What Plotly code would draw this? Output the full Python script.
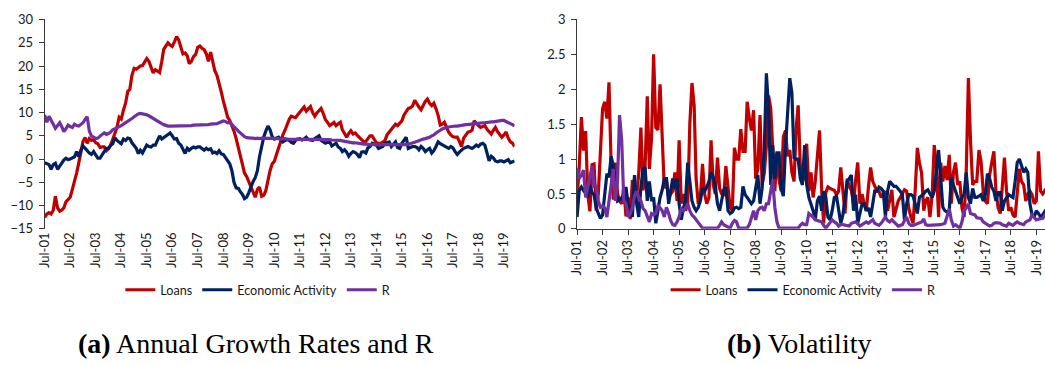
import pandas as pd
import plotly.graph_objects as go

# Monthly observations, Jul-2001 .. Dec-2019 (one row per Jul-Jun year)
months = pd.date_range("2001-07-01", periods=222, freq="MS")
july_ticks = pd.date_range("2001-07-01", "2019-07-01", freq="12MS")

# (a) Annual growth rates (%) and R
loans_growth = [
    -12.5, -11.8, -11.5, -11.8, -11.0, -8.0, -10.5, -11.2, -11.0, -10.5, -9.2, -8.6,
    -8.2, -6.5, -5.0, -3.0, -0.8, 1.5, 3.8, 4.6, 3.4, 4.4, 4.0, 4.2,
    3.5, 3.3, 2.5, 2.6, 2.6, 1.8, 2.2, 3.0, 4.2, 5.5, 6.8, 9.0,
    8.6, 10.5, 12.0, 14.5, 15.0, 18.0, 19.5, 19.3, 19.6, 20.0, 20.1, 21.0,
    21.6, 21.0, 19.8, 18.5, 19.2, 18.8, 18.6, 21.0, 23.6, 24.3, 25.0, 24.5,
    24.2, 25.2, 26.3, 25.6, 24.0, 22.6, 22.8, 22.2, 20.5, 21.0, 22.0, 22.5,
    24.0, 24.3, 23.8, 23.5, 22.6, 21.0, 23.0, 20.5, 19.0, 18.0, 16.5, 14.5,
    12.5, 10.5, 9.0, 8.3, 7.2, 6.0, 4.4, 2.5, 1.0, -1.5, -3.0, -3.8,
    -4.8, -6.0, -7.0, -8.2, -6.5, -6.0, -8.0, -7.8, -6.8, -4.5, -2.5, -1.0,
    -0.5, 1.0, 2.5, 4.0, 5.2, 6.2, 7.5, 8.6, 9.2, 9.0, 8.9, 9.5,
    10.0, 10.6, 11.2, 10.3, 10.8, 11.3, 10.0, 9.2, 9.9, 10.5, 10.9, 9.8,
    8.5, 7.9, 7.2, 7.5, 7.9, 7.2, 7.5, 7.9, 6.3, 5.5, 4.7, 5.5,
    6.1, 5.4, 5.6, 5.1, 4.7, 4.1, 3.7, 3.8, 4.4, 5.0, 5.0, 4.2,
    3.5, 3.4, 3.4, 3.6, 4.0, 5.2, 5.8, 6.4, 7.0, 7.5, 7.2, 7.6,
    8.2, 9.5, 10.4, 10.9, 11.0, 11.4, 12.6, 11.8, 11.2, 10.6, 11.5, 12.4,
    12.9, 12.0, 11.5, 12.0, 10.8, 9.4, 7.3, 7.5, 7.9, 6.8, 5.8, 5.2,
    4.8, 4.7, 4.7, 3.8, 2.7, 4.5, 5.3, 5.8, 5.9, 6.2, 8.2, 7.6,
    7.2, 6.8, 7.0, 7.2, 6.4, 5.8, 5.4, 6.2, 6.8, 5.9, 5.2, 4.7,
    5.2, 5.8, 4.5, 3.7, 3.4, 2.7,
]
activity_growth = [
    -0.8, -1.0, -1.2, -2.2, -1.2, -0.9, -2.2, -1.5, -0.8, -0.2, 0.2, -0.1,
    0.0, 0.2, 0.5, 1.6, 0.5, 1.9, 2.8, 2.3, 1.8, 1.3, 1.0, 1.6,
    0.9, 0.2, 0.2, 0.8, 1.6, 2.3, 2.3, 3.0, 3.3, 4.6, 4.0, 3.6,
    3.3, 4.3, 4.0, 4.5, 4.4, 3.5, 3.0, 2.3, 1.2, 1.9, 1.3, 2.2,
    3.0, 2.7, 2.6, 3.0, 3.0, 4.0, 5.0, 4.3, 4.6, 5.0, 5.2, 5.6,
    5.0, 4.3, 4.4, 3.4, 3.0, 2.0, 1.2, 2.3, 1.9, 2.3, 2.6, 2.4,
    2.6, 2.6, 2.3, 1.9, 2.3, 2.0, 2.2, 1.3, 1.5, 1.2, 1.8, 1.1,
    1.0, 0.4, -0.3, -1.0, -2.5, -5.0, -6.2, -6.3, -7.0, -7.6, -8.5, -8.2,
    -7.2, -5.8, -4.8, -4.0, -2.5, 0.5, 3.0, 4.8, 6.0, 7.1, 6.3, 4.8,
    4.3, 4.6, 4.7, 4.2, 3.7, 4.0, 4.2, 4.0, 3.6, 3.4, 4.0, 4.3,
    4.4, 4.1, 4.3, 4.7, 4.2, 4.1, 4.0, 4.4, 4.8, 5.0, 4.0, 3.6,
    3.4, 3.6, 3.7, 2.8, 3.2, 3.4, 2.6, 2.3, 1.6, 2.0, 1.5, 0.6,
    1.2, 1.6, 1.4, 1.0, 0.3, 1.5, 1.6, 1.3, 2.4, 2.7, 3.4, 3.2,
    3.0, 2.3, 2.6, 2.7, 3.4, 3.5, 3.7, 2.7, 3.2, 3.7, 2.5, 2.3,
    3.4, 4.0, 4.7, 2.3, 2.5, 2.7, 2.7, 2.5, 2.0, 2.7, 2.3, 1.6,
    2.0, 2.3, 1.3, 1.8, 2.7, 3.7, 3.3, 3.0, 2.7, 2.5, 2.3, 2.7,
    2.4, 1.6, 1.0, 1.5, 2.0, 2.3, 2.5, 2.7, 2.5, 2.3, 2.6, 3.0,
    2.7, 3.2, 3.4, 3.0, 1.3, -0.4, 0.6, 0.2, -0.4, -0.6, -0.4, -0.4,
    -0.6, -0.3, -0.1, -0.8, -0.5, -0.4,
]
r_level = [
    9.5, 7.9, 9.2, 8.2, 7.5, 6.6, 7.2, 7.8, 7.0, 5.9, 6.5, 7.3,
    7.0, 6.8, 7.5, 7.2, 7.1, 7.4, 7.8, 8.6, 9.1, 6.0, 5.0, 4.7,
    4.4, 4.5, 5.0, 5.3, 5.6, 5.3, 5.5, 5.8, 6.3, 6.5, 6.7, 6.9,
    7.2, 7.5, 7.8, 8.1, 8.3, 8.7, 9.1, 9.5, 9.7, 9.8, 9.7, 9.7,
    9.5, 9.3, 9.0, 8.7, 8.3, 8.0, 7.8, 7.6, 7.4, 7.2, 7.1, 7.1,
    7.1, 7.1, 7.1, 7.1, 7.1, 7.1, 7.1, 7.2, 7.2, 7.2, 7.3, 7.3,
    7.3, 7.4, 7.4, 7.4, 7.4, 7.4, 7.5, 7.5, 7.5, 7.6, 7.8, 8.0,
    8.2, 8.1, 7.8, 7.9, 7.5, 7.0, 6.5, 6.0, 5.6, 5.1, 4.8, 4.6,
    4.5, 4.5, 4.5, 4.4, 4.5, 4.4, 4.5, 4.5, 4.4, 4.4, 4.5, 4.4,
    4.4, 4.4, 4.4, 4.3, 4.4, 4.4, 4.3, 4.3, 4.3, 4.3, 4.3, 4.3,
    4.3, 4.3, 4.3, 4.3, 4.3, 4.3, 4.2, 4.2, 4.2, 4.2, 4.3, 4.2,
    4.2, 4.2, 4.2, 4.1, 4.1, 4.1, 4.0, 4.0, 3.9, 3.8, 3.8, 3.7,
    3.6, 3.5, 3.5, 3.4, 3.4, 3.3, 3.2, 3.2, 3.1, 3.1, 3.1, 3.1,
    3.0, 3.0, 3.0, 3.0, 3.0, 3.0, 3.0, 3.0, 3.0, 3.0, 3.1, 3.1,
    3.1, 3.1, 3.1, 3.2, 3.3, 3.4, 3.6, 3.8, 4.0, 4.2, 4.3, 4.4,
    4.5, 4.7, 5.0, 5.2, 5.6, 6.0, 6.2, 6.5, 6.7, 6.8, 6.9, 7.0,
    7.0, 7.1, 7.1, 7.2, 7.3, 7.3, 7.4, 7.4, 7.5, 7.5, 7.6, 7.6,
    7.7, 7.7, 7.8, 7.8, 7.9, 8.0, 8.0, 8.0, 8.1, 8.1, 8.2, 8.3,
    8.3, 8.1, 7.9, 7.6, 7.4, 7.1,
]

# (b) Volatility
loans_vol = [
    0.4, 0.9, 1.6, 1.12, 1.4, 0.5, 0.25, 0.92, 0.93, 0.26, 0.5, 1.1,
    1.72, 1.82, 1.58, 2.1, 0.9, 0.42, 0.95, 0.5, 0.4, 0.36, 0.6, 0.18,
    0.45, 0.14, 0.7, 0.6, 0.45, 0.8, 1.45, 0.55, 0.9, 1.9, 0.86, 1.3,
    2.5, 1.45, 1.42, 2.07, 1.18, 0.58, 0.7, 0.45, 0.5, 0.54, 0.81, 0.4,
    1.27, 0.36, 0.5, 0.26, 0.36, 1.5, 2.09, 1.77, 0.72, 0.36, 0.45, 0.93,
    0.5, 0.36, 0.45, 1.27, 0.63, 0.5, 1.02, 0.58, 0.5, 0.47, 0.9, 0.63,
    0.31, 0.26, 1.16, 1.0, 1.0, 1.43, 1.11, 1.11, 1.82, 1.59, 1.41, 1.7,
    0.72, 0.86, 1.63, 0.63, 0.8, 1.18, 1.91, 1.73, 1.18, 0.54, 1.09, 0.7,
    0.54, 1.32, 1.41, 1.04, 1.13, 0.81, 0.68, 1.45, 1.77, 0.9, 0.68, 0.74,
    1.22, 0.54, 0.81, 0.45, 0.68, 1.0, 1.41, 0.54, 0.08, 0.52, 0.6, 0.58,
    0.56, 0.55, 0.49, 0.54, 0.88, 0.5, 0.22, 0.72, 0.61, 0.55, 0.36, 0.7,
    0.95, 0.36, 0.5, 0.36, 0.26, 0.6, 0.88, 0.68, 0.6, 0.54, 0.54, 0.45,
    0.5, 0.54, 0.26, 0.4, 0.56, 0.17, 0.3, 0.4, 0.45, 0.5, 0.56, 0.54,
    0.3, 0.17, 0.08, 0.54, 1.16, 0.95, 0.8, 0.26, 0.4, 0.45, 0.17, 0.49,
    1.2, 0.9, 0.17, 0.95, 0.68, 0.9, 0.7, 1.06, 0.36, 0.81, 0.95, 0.63,
    0.68, 0.3, 0.17, 0.81, 2.16, 1.27, 0.63, 0.68, 0.68, 1.13, 0.97, 0.54,
    0.4, 0.36, 0.77, 0.95, 1.11, 0.54, 0.3, 0.22, 0.63, 1.02, 0.54, 0.26,
    0.31, 0.2, 0.17, 0.54, 0.86, 0.68, 0.63, 0.4, 0.5, 0.54, 0.49, 0.36,
    0.4, 1.11, 0.54, 0.5, 0.55, 0.5,
]
activity_vol = [
    0.17, 0.55, 0.6, 0.55, 0.6, 0.45, 0.63, 0.52, 0.49, 0.3, 0.22, 0.15,
    0.2, 0.5, 0.79, 0.74, 1.04, 0.9, 0.6, 0.4, 0.42, 0.45, 0.4, 0.6,
    0.36, 0.3, 0.17, 0.77, 0.36, 0.17, 0.6, 0.86, 0.88, 0.4, 0.68, 0.4,
    0.45, 0.08, 0.26, 0.45, 0.56, 0.72, 0.72, 0.36, 0.54, 0.72, 0.58, 0.72,
    0.36, 0.13, 0.3, 0.4, 0.95, 0.68, 0.4, 0.31, 0.26, 0.31, 0.4, 0.58,
    0.54, 0.6, 0.68, 0.81, 0.74, 0.61, 0.36, 0.26, 0.4, 0.56, 0.6, 0.26,
    0.22, 0.24, 0.3, 0.31, 0.29, 0.31, 0.61, 0.49, 0.45, 0.4, 0.36, 0.4,
    0.58, 0.77, 0.36, 0.58, 1.13, 2.23, 1.73, 0.63, 1.2, 0.72, 1.09, 1.09,
    0.58, 0.47, 1.18, 1.77, 2.16, 1.95, 1.02, 1.0, 1.0, 0.72, 0.63, 1.2,
    0.63, 0.45, 0.36, 0.26, 0.13, 0.4, 0.47, 0.26, 0.54, 0.45, 0.17, 0.13,
    0.26, 0.45, 0.47, 0.26, 0.08, 0.2, 0.45, 0.68, 0.72, 0.77, 0.26, 0.49,
    0.08, 0.2, 0.36, 0.36, 0.26, 0.3, 0.17, 0.36, 0.54, 0.54, 0.6, 0.58,
    0.54, 0.17, 0.54, 0.68, 0.65, 0.61, 0.61, 0.58, 0.54, 0.49, 0.13, 0.36,
    0.49, 0.49, 0.47, 0.36, 0.22, 0.45, 0.47, 0.5, 0.54, 0.56, 0.5, 0.45,
    0.54, 0.86, 1.13, 0.75, 0.31, 0.26, 0.24, 0.26, 0.74, 0.63, 0.55, 0.45,
    0.36, 0.45, 0.5, 0.81, 0.45, 0.36, 0.58, 0.45, 0.45, 0.47, 0.49, 0.4,
    0.49, 0.79, 0.72, 0.6, 0.54, 0.4, 0.52, 0.52, 0.26, 0.4, 0.45, 0.49,
    0.47, 0.45, 0.68, 0.95, 1.0, 0.9, 0.81, 0.86, 0.81, 0.36, 0.2, 0.17,
    0.26, 0.22, 0.17, 0.2, 0.25, 0.22,
]
r_vol = [
    0.87, 0.72, 0.77, 0.84, 0.45, 0.6, 0.7, 0.9, 0.61, 0.61, 0.4, 0.31,
    0.33, 0.3, 0.17, 0.4, 0.68, 0.86, 0.4, 0.7, 1.63, 1.27, 0.4, 0.36,
    0.17, 0.22, 0.3, 0.47, 0.54, 0.45, 0.4, 0.29, 0.26, 0.18, 0.1, 0.22,
    0.2, 0.22, 0.33, 0.3, 0.26, 0.17, 0.31, 0.22, 0.12, 0.06, 0.05, 0.1,
    0.17, 0.29, 0.26, 0.3, 0.36, 0.26, 0.2, 0.17, 0.13, 0.08, 0.04, 0.01,
    0.01, 0.01, 0.01, 0.01, 0.01, 0.01, 0.01, 0.05, 0.1, 0.06, 0.04, 0.02,
    0.01, 0.08, 0.12, 0.1, 0.01, 0.01, 0.01, 0.01, 0.01, 0.06, 0.15, 0.26,
    0.13, 0.26, 0.3, 0.31, 0.26, 0.36, 0.36, 0.54, 0.7, 0.31, 0.1, 0.01,
    0.01, 0.01, 0.01, 0.01, 0.01, 0.01, 0.01, 0.01, 0.01, 0.05, 0.08, 0.06,
    0.06, 0.22, 0.2, 0.17, 0.13, 0.12, 0.1, 0.1, 0.05, 0.01, 0.05, 0.1,
    0.13, 0.1, 0.08, 0.04, 0.06, 0.06, 0.05, 0.04, 0.04, 0.08, 0.09, 0.1,
    0.07, 0.04, 0.06, 0.08, 0.1, 0.08, 0.1, 0.13, 0.08, 0.06, 0.05, 0.08,
    0.12, 0.17, 0.12, 0.1, 0.13, 0.1, 0.06, 0.04, 0.05, 0.06, 0.12, 0.17,
    0.08, 0.05, 0.05, 0.06, 0.07, 0.08, 0.1, 0.14, 0.06, 0.05, 0.05, 0.06,
    0.06, 0.06, 0.06, 0.06, 0.07, 0.08, 0.18, 0.29, 0.13, 0.04, 0.06, 0.03,
    0.01, 0.1, 0.26, 0.3, 0.36, 0.22, 0.21, 0.2, 0.16, 0.15, 0.15, 0.1,
    0.08, 0.06, 0.04, 0.05, 0.08, 0.09, 0.09, 0.08, 0.06, 0.05, 0.04, 0.08,
    0.06, 0.05, 0.08, 0.1, 0.08, 0.07, 0.06, 0.1, 0.12, 0.13, 0.2, 0.17,
    0.13, 0.14, 0.15, 0.15, 0.2, 0.18,
]

series_names = ["Loans", "Economic Activity", "R"]
series_colors = ["#C00000", "#002060", "#7030A0"]

W, H = 1045, 365
TEXT = "#1a1a1a"
AXIS = "#3a3a3a"
tick_font = dict(family="Lato", size=13, color=TEXT)
legend_font = dict(family="Lato", size=12.6, color=TEXT)

fig = go.Figure()
for name, vals, color in zip(series_names, [loans_growth, activity_growth, r_level], series_colors):
    fig.add_trace(go.Scatter(x=months, y=vals, mode="lines", name=name,
                             line=dict(color=color, width=3.2),
                             xaxis="x", yaxis="y", legend="legend"))
for name, vals, color in zip(series_names, [loans_vol, activity_vol, r_vol], series_colors):
    fig.add_trace(go.Scatter(x=months, y=vals, mode="lines", name=name,
                             line=dict(color=color, width=3.2),
                             xaxis="x2", yaxis="y2", legend="legend2"))

# panel geometry in pixels
left_px = (36, 510)
right_px = (573, W)
y_dom = [1 - 231 / H, 1 - 12 / H]
span = months[-1] - months[0]
right_end = months[0] + span * ((right_px[1] - right_px[0]) / (left_px[1] - left_px[0]))

y_left = (-15, 30)
zero_pos = y_dom[0] + (0 - y_left[0]) / (y_left[1] - y_left[0]) * (y_dom[1] - y_dom[0])

date_axis = dict(type="date", tickvals=july_ticks, tickformat="%b-%y", tickangle=-90,
                 tickfont=tick_font, showgrid=False, zeroline=False)
val_axis = dict(showline=True, linecolor=AXIS, linewidth=1, ticks="outside", ticklen=5,
                tickcolor=AXIS, tickfont=tick_font, showgrid=False, zeroline=False,
                ticklabelstandoff=3)

fig.update_layout(
    width=W, height=H,
    margin=dict(l=0, r=0, t=0, b=0),
    paper_bgcolor="white", plot_bgcolor="white",
    hovermode=False,
    xaxis=dict(**date_axis, domain=[left_px[0] / W, left_px[1] / W], anchor="y",
               range=[months[0], months[-1]], ticks="", showline=False),
    # category axis line drawn through zero
    xaxis3=dict(type="date", overlaying="x", anchor="free", position=zero_pos,
                range=[months[0], months[-1]], tickvals=july_ticks,
                showticklabels=False, ticks="outside", ticklen=4, tickcolor=AXIS,
                showline=True, linecolor=AXIS, linewidth=1, showgrid=False, zeroline=False),
    yaxis=dict(**val_axis, domain=y_dom, anchor="x", range=list(y_left),
               tickvals=list(range(-15, 31, 5))),
    xaxis2=dict(**date_axis, domain=[right_px[0] / W, 1.0], anchor="y2",
                range=[months[0], right_end], ticks="outside", ticklen=5, tickcolor=AXIS,
                showline=True, linecolor=AXIS, linewidth=1),
    yaxis2=dict(**val_axis, domain=y_dom, anchor="x2", range=[0, 3],
                tickvals=[0, 0.5, 1, 1.5, 2, 2.5, 3]),
    legend=dict(orientation="h", x=251 / W, xanchor="center", y=1 - 295 / H, yanchor="middle",
                font=legend_font, bgcolor="rgba(0,0,0,0)"),
    legend2=dict(orientation="h", x=801 / W, xanchor="center", y=1 - 295 / H, yanchor="middle",
                 font=legend_font, bgcolor="rgba(0,0,0,0)"),
    annotations=[
        dict(text="<b>(a)</b> Annual Growth Rates and R", xref="paper", yref="paper",
             x=249 / W, y=1 - 351 / H, xanchor="center", yanchor="middle", showarrow=False,
             font=dict(family="Liberation Serif", size=28, color="black")),
        dict(text="<b>(b)</b> Volatility", xref="paper", yref="paper",
             x=797 / W, y=1 - 351 / H, xanchor="center", yanchor="middle", showarrow=False,
             font=dict(family="Liberation Serif", size=28, color="black")),
    ],
)

fig.write_html("out.html")
